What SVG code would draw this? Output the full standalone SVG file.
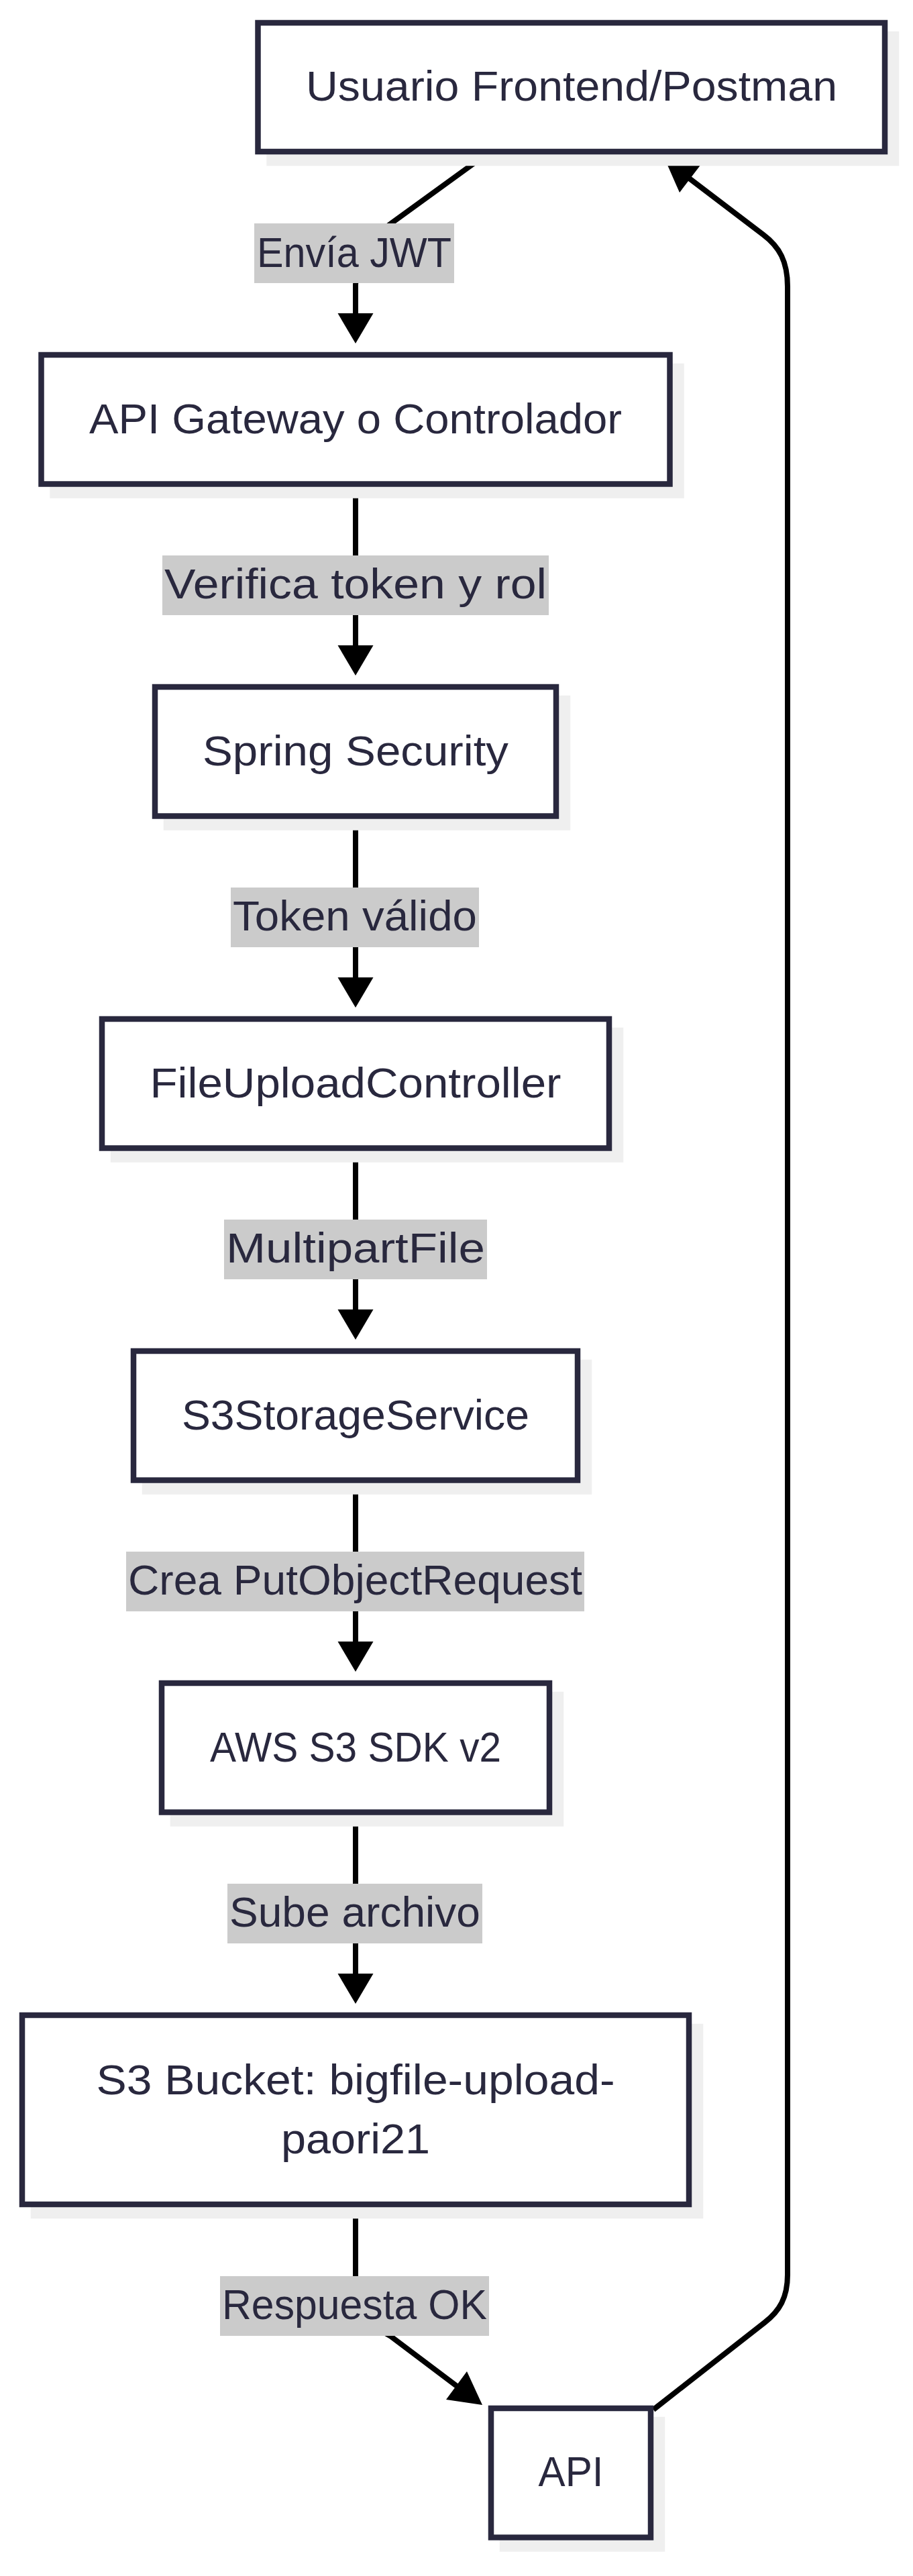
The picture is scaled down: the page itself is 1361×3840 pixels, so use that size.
<svg xmlns="http://www.w3.org/2000/svg" width="1361" height="3840" viewBox="0 0 1361 3840">
<defs>
<style>
.bg{fill:#ffffff}
.shadow{fill:#efefef;stroke:none}
.box{fill:#ffffff;stroke:#29283e;stroke-width:8.5}
.txt{font-family:"Liberation Sans","Noto Sans",Arial,sans-serif;font-size:63px;fill:#29283e;text-anchor:middle}
.edge{fill:none;stroke:#000000;stroke-width:8}
.head{fill:#000000;stroke:none}
.lbl{fill:#cbcbcb;stroke:none}
</style>
</defs>
<rect class="bg" x="0" y="0" width="1361" height="3840"/>

<g id="connectors">
  <path class="edge" d="M725,230 L583,333 C545,361 530,390 530,425 L530,470"/>
  <polygon class="head" points="530,512 503.5,467 556.5,467"/>
  <path class="edge" d="M530,726 L530,965"/>
  <polygon class="head" points="530,1007 503.5,962 556.5,962"/>
  <path class="edge" d="M530,1221 L530,1460"/>
  <polygon class="head" points="530,1502 503.5,1457 556.5,1457"/>
  <path class="edge" d="M530,1716 L530,1955"/>
  <polygon class="head" points="530,1997 503.5,1952 556.5,1952"/>
  <path class="edge" d="M530,2211 L530,2450"/>
  <polygon class="head" points="530,2492 503.5,2447 556.5,2447"/>
  <path class="edge" d="M530,2706 L530,2945"/>
  <polygon class="head" points="530,2987 503.5,2942 556.5,2942"/>
  <path class="edge" d="M530,3290 L530,3420 C530,3445 545,3462 583,3483 L685,3560"/>
  <polygon class="head" points="719,3585 665,3577 696,3535"/>
  <path class="edge" d="M974,3592 L1140,3462 C1162,3445 1174,3425 1174,3391 L1174,427 C1174,390 1162,368 1138,350 L1025,264"/>
  <polygon class="head" points="991,237 1045,245 1013,287"/>

  <rect class="lbl" x="379" y="333" width="298" height="89"/>
  <text class="txt" x="528" y="398" textLength="290" lengthAdjust="spacingAndGlyphs">Envía JWT</text>
  <rect class="lbl" x="242" y="828" width="576" height="89"/>
  <text class="txt" x="530" y="892" textLength="570" lengthAdjust="spacingAndGlyphs">Verifica token y rol</text>
  <rect class="lbl" x="344" y="1323" width="370" height="89"/>
  <text class="txt" x="529" y="1387" textLength="364" lengthAdjust="spacingAndGlyphs">Token válido</text>
  <rect class="lbl" x="334" y="1818" width="392" height="89"/>
  <text class="txt" x="530" y="1882" textLength="386" lengthAdjust="spacingAndGlyphs">MultipartFile</text>
  <rect class="lbl" x="188" y="2313" width="683" height="89"/>
  <text class="txt" x="529.5" y="2377" textLength="677" lengthAdjust="spacingAndGlyphs">Crea PutObjectRequest</text>
  <rect class="lbl" x="339" y="2808" width="380" height="89"/>
  <text class="txt" x="529" y="2872" textLength="374" lengthAdjust="spacingAndGlyphs">Sube archivo</text>
  <rect class="lbl" x="328" y="3393" width="401" height="89"/>
  <text class="txt" x="528.5" y="3457" textLength="395" lengthAdjust="spacingAndGlyphs">Respuesta OK</text>
</g>

<g id="n1">
  <rect class="shadow" x="397.25" y="46.75" width="943" height="200.5"/>
  <rect class="box" x="384.5" y="34" width="934.5" height="192"/>
  <text class="txt" x="852" y="150" textLength="792" lengthAdjust="spacingAndGlyphs">Usuario Frontend/Postman</text>
</g>
<g id="n2">
  <rect class="shadow" x="74.25" y="541.75" width="945.5" height="201"/>
  <rect class="box" x="61.5" y="529" width="937" height="192.5"/>
  <text class="txt" x="530" y="646" textLength="794" lengthAdjust="spacingAndGlyphs">API Gateway o Controlador</text>
</g>
<g id="n3">
  <rect class="shadow" x="243.75" y="1036.75" width="606.5" height="201"/>
  <rect class="box" x="231" y="1024" width="598" height="192.5"/>
  <text class="txt" x="530" y="1141" textLength="456" lengthAdjust="spacingAndGlyphs">Spring Security</text>
</g>
<g id="n4">
  <rect class="shadow" x="164.75" y="1531.75" width="764.5" height="201"/>
  <rect class="box" x="152" y="1519" width="756" height="192.5"/>
  <text class="txt" x="530" y="1636" textLength="613" lengthAdjust="spacingAndGlyphs">FileUploadController</text>
</g>
<g id="n5">
  <rect class="shadow" x="211.75" y="2026.75" width="670.5" height="201"/>
  <rect class="box" x="199" y="2014" width="662" height="192.5"/>
  <text class="txt" x="530" y="2131" textLength="518" lengthAdjust="spacingAndGlyphs">S3StorageService</text>
</g>
<g id="n6">
  <rect class="shadow" x="253.75" y="2521.75" width="586.5" height="201"/>
  <rect class="box" x="241" y="2509" width="578" height="192.5"/>
  <text class="txt" x="530" y="2626" textLength="434" lengthAdjust="spacingAndGlyphs">AWS S3 SDK v2</text>
</g>
<g id="n7">
  <rect class="shadow" x="45.75" y="3016.75" width="1002.5" height="290.5"/>
  <rect class="box" x="33" y="3004" width="994" height="282"/>
  <text class="txt" x="530" y="3122" textLength="773" lengthAdjust="spacingAndGlyphs">S3 Bucket: bigfile-upload-</text>
  <text class="txt" x="530" y="3210" textLength="222" lengthAdjust="spacingAndGlyphs">paori21</text>
</g>
<g id="n8">
  <rect class="shadow" x="744.75" y="3602.75" width="246.5" height="201"/>
  <rect class="box" x="732" y="3590" width="238" height="192.5"/>
  <text class="txt" x="851" y="3706" textLength="97" lengthAdjust="spacingAndGlyphs">API</text>
</g>
</svg>
